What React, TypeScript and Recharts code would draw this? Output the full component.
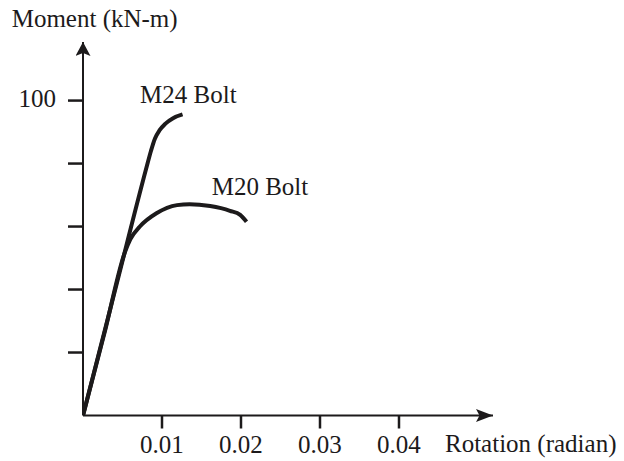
import React from 'react';
import { LineChart, Line, XAxis, YAxis, ReferenceDot, Label } from 'recharts';

const m24Rotation = [0, 0.004, 0.008, 0.0086, 0.0091, 0.0097, 0.0104, 0.0114, 0.0126];
const m24Moment = [0, 39.2, 78.4, 84.0, 87.9, 90.6, 92.6, 94.4, 95.6];
const m20Rotation = [0, 0.0027, 0.0053, 0.006, 0.0072, 0.0093, 0.0119, 0.0135, 0.0161, 0.0186, 0.0199, 0.0207];
const m20Moment = [0, 26, 51.8, 56, 60, 64.2, 66.8, 67.1, 66.5, 65, 63.7, 61.5];
const xTicks = [0.01, 0.02, 0.03, 0.04];
const xTickLabels = ['0.01', '0.02', '0.03', '0.04'];
const yTicks = [20, 40, 60, 80, 100];
const yTickLabels = ['', '', '', '', '100'];
const seriesNames = ['M24 Bolt', 'M20 Bolt'];
const seriesLabelAt = [
  { r: 0.00722, m: 99.3 },
  { r: 0.01629, m: 70.0 },
];
const xTitle = 'Rotation (radian)';
const yTitle = 'Moment (kN-m)';

const m24Data = m24Rotation.map((r, i) => ({ r, m: m24Moment[i] }));
const m20Data = m20Rotation.map((r, i) => ({ r, m: m20Moment[i] }));

const INK = '#1c1a1b';
const FONT = '"Liberation Serif", "Times New Roman", serif';
const FS = 25;

const seriesLabel = (text: string) => (props: any) => {
  const vb = props.viewBox || {};
  return (
    <text x={vb.x} y={vb.y} fill={INK} fontFamily={FONT} fontSize={FS} textAnchor="start">
      {text}
    </text>
  );
};

export default function App() {
  return (
    <div style={{ position: 'absolute', left: 0, top: 0, background: '#fff' }}>
      <LineChart width={624} height={461} margin={{ top: 42, right: 131, bottom: 0, left: 0 }}>
        <defs>
          <marker id="arrowX" markerUnits="userSpaceOnUse" markerWidth="20" markerHeight="16" refX="17" refY="6.5" orient="auto">
            <path d="M0,0 L17,6.5 L0,13 L3.5,6.5 Z" fill={INK} />
          </marker>
          <marker id="arrowY" markerUnits="userSpaceOnUse" markerWidth="20" markerHeight="16" refX="14" refY="7.5" orient="auto-start-reverse">
            <path d="M0,0 L14,7.5 L0,15 L3,7.5 Z" fill={INK} />
          </marker>
        </defs>
        <XAxis
          dataKey="r"
          type="number"
          domain={[0, 0.0519]}
          allowDataOverflow
          ticks={xTicks}
          tickFormatter={(v: number) => xTickLabels[xTicks.indexOf(v)] ?? ''}
          height={45.5}
          tickSize={13}
          tickMargin={7}
          axisLine={{ stroke: INK, strokeWidth: 2, markerEnd: 'url(#arrowX)' }}
          tickLine={{ stroke: INK, strokeWidth: 2.5 }}
          tick={{ fill: INK, fontFamily: FONT, fontSize: FS }}
        >
          <Label
            content={(p: any) => {
              const vb = p.viewBox || {};
              return (
                <text x={vb.x + vb.width - 48} y={vb.y + 36} fill={INK} fontFamily={FONT} fontSize={FS} textAnchor="start">
                  {xTitle}
                </text>
              );
            }}
          />
        </XAxis>
        <YAxis
          type="number"
          domain={[0, 118.6]}
          allowDataOverflow
          ticks={yTicks}
          tickFormatter={(v: number) => yTickLabels[yTicks.indexOf(v)] ?? ''}
          width={83}
          tickSize={15}
          tickMargin={12}
          axisLine={{ stroke: INK, strokeWidth: 2, markerStart: 'url(#arrowY)' }}
          tickLine={{ stroke: INK, strokeWidth: 2.5 }}
          tick={{ fill: INK, fontFamily: FONT, fontSize: FS, dy: -2 }}
        >
          <Label
            content={(p: any) => {
              const vb = p.viewBox || {};
              return (
                <text x={vb.x + 11.7} y={vb.y - 15.3} fill={INK} fontFamily={FONT} fontSize={FS} textAnchor="start">
                  {yTitle}
                </text>
              );
            }}
          />
        </YAxis>
        <Line data={m24Data} dataKey="m" type="monotone" stroke={INK} strokeWidth={4} dot={false} isAnimationActive={false} />
        <Line data={m20Data} dataKey="m" type="monotone" stroke={INK} strokeWidth={4} dot={false} isAnimationActive={false} />
        {seriesNames.map((name, i) => (
          <ReferenceDot
            key={name}
            x={seriesLabelAt[i].r}
            y={seriesLabelAt[i].m}
            r={0}
            fill="none"
            stroke="none"
            label={seriesLabel(name)}
          />
        ))}
      </LineChart>
    </div>
  );
}
